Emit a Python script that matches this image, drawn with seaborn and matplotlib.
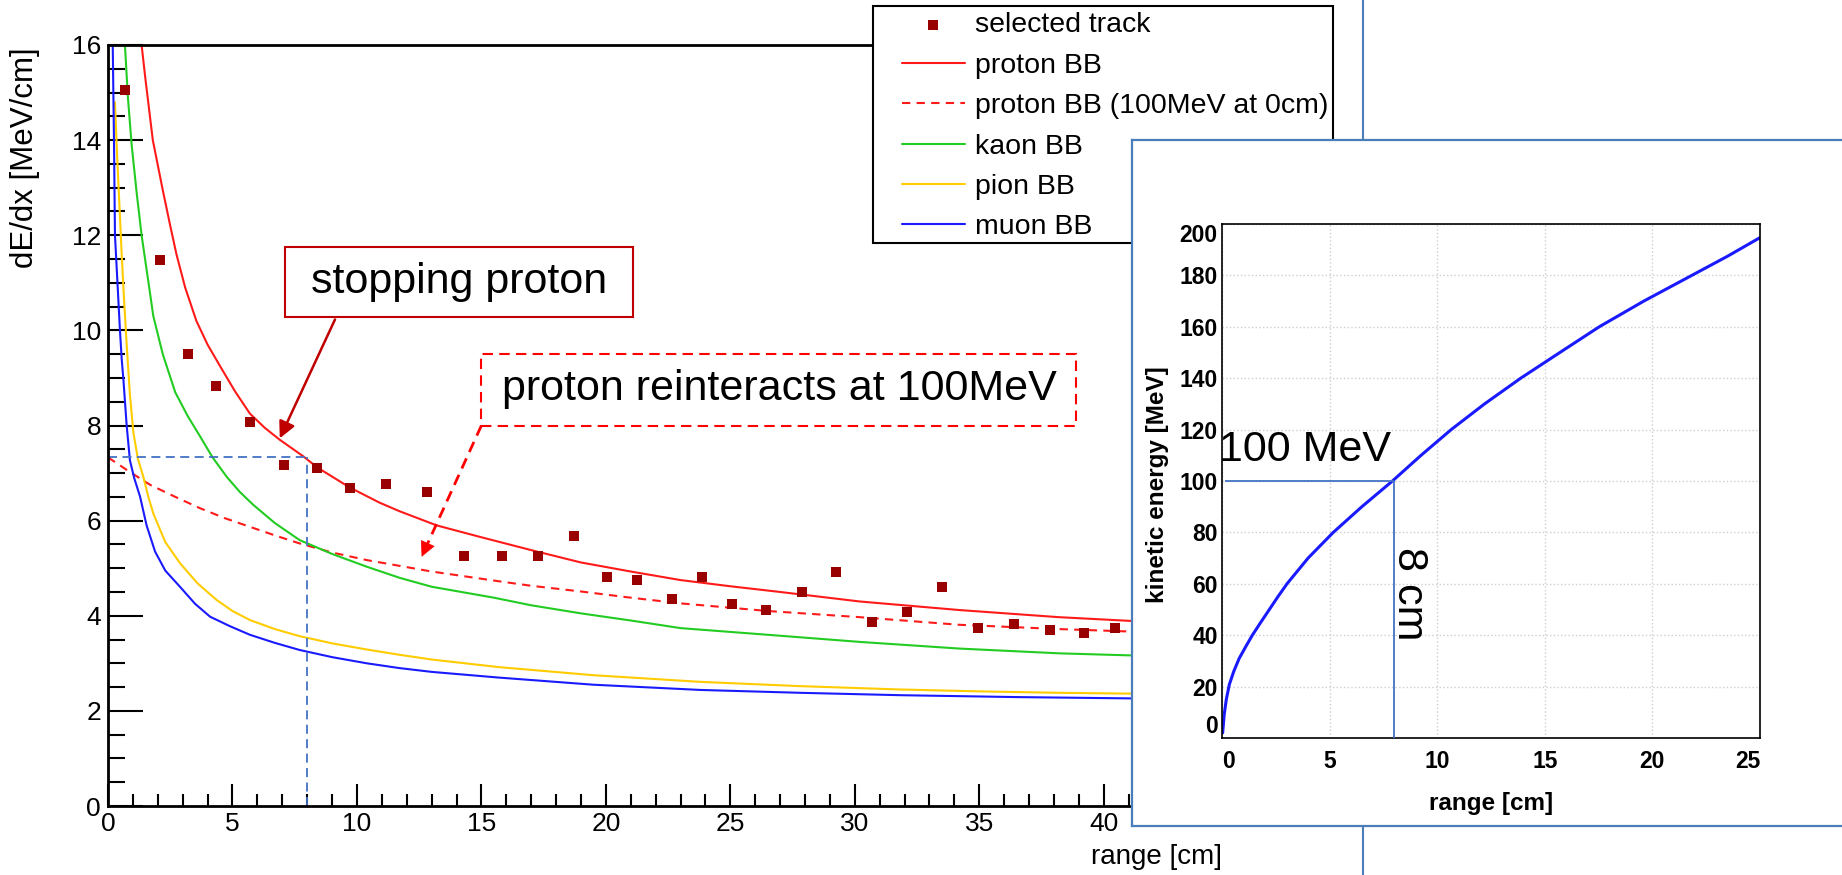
import matplotlib
matplotlib.use("Agg")
import matplotlib.pyplot as plt
import seaborn as sns
from matplotlib.patches import Rectangle
from matplotlib.lines import Line2D
from matplotlib.ticker import MultipleLocator

# ---------------- data ----------------
track_range = [0.68, 2.09, 3.2, 4.34, 5.7, 7.07, 8.38, 9.72, 11.16, 12.8, 14.31, 15.83,
               17.28, 18.73, 20.03, 21.27, 22.66, 23.87, 25.07, 26.45, 27.88, 29.26,
               30.71, 32.08, 33.51, 34.95, 36.4, 37.86, 39.2, 40.44]
track_dedx = [15.05, 11.48, 9.5, 8.82, 8.07, 7.18, 7.10, 6.68, 6.76, 6.6, 5.26, 5.26,
              5.26, 5.68, 4.82, 4.75, 4.36, 4.82, 4.24, 4.12, 4.49, 4.91,
              3.86, 4.07, 4.61, 3.74, 3.82, 3.69, 3.64, 3.74]

proton_range = [1.35, 1.5, 1.8, 2.2, 2.5, 2.75, 3.1, 3.55, 4.0, 4.5, 5.1, 5.7, 6.3, 6.9,
                7.85, 8.4, 9.7, 10.9, 11.7, 13.2, 15.0, 17.0, 19.0, 21.0, 23.0, 25.0,
                27.0, 30.2, 34.2, 38.2, 41.5]
proton_dedx = [16.0, 15.3, 14.0, 12.95, 12.2, 11.6, 10.9, 10.2, 9.7, 9.25, 8.72, 8.25,
               7.95, 7.7, 7.35, 7.12, 6.7, 6.38, 6.2, 5.9, 5.65, 5.38, 5.12, 4.93, 4.75,
               4.62, 4.5, 4.3, 4.12, 3.97, 3.88]

proton100_range = [0.0, 0.8, 1.7, 2.7, 3.7, 4.7, 5.7, 6.7, 7.7, 9.0, 10.4, 11.7, 13.0,
                   15.5, 17.0, 19.0, 21.0, 23.0, 26.5, 30.2, 34.2, 38.2, 41.5]
proton100_dedx = [7.33, 7.05, 6.75, 6.5, 6.26, 6.05, 5.87, 5.69, 5.52, 5.33, 5.17, 5.05,
                  4.93, 4.74, 4.63, 4.51, 4.38, 4.26, 4.1, 3.97, 3.81, 3.72, 3.66]

kaon_range = [0.68, 0.8, 0.95, 1.15, 1.35, 1.6, 1.82, 2.2, 2.7, 3.2, 3.7, 4.2, 4.77, 5.3,
              5.84, 6.7, 7.7, 9.0, 10.4, 11.7, 13.0, 15.5, 17.0, 19.0, 21.0, 23.0, 26.5,
              30.2, 34.2, 38.2, 41.5]
kaon_dedx = [16.0, 14.9, 13.9, 12.9, 12.0, 11.1, 10.3, 9.5, 8.7, 8.2, 7.77, 7.33, 6.92,
             6.6, 6.33, 5.95, 5.59, 5.3, 5.03, 4.8, 4.61, 4.38, 4.22, 4.05, 3.9, 3.74, 3.6,
             3.45, 3.31, 3.21, 3.16]

pion_range = [0.28, 0.34, 0.41, 0.48, 0.55, 0.65, 0.75, 0.88, 1.02, 1.2, 1.42, 1.62, 1.82,
              2.3, 2.9, 3.6, 4.37, 5.0, 5.7, 6.7, 7.7, 9.0, 10.4, 11.7, 13.0, 15.7, 19.5,
              23.8, 27.8, 31.8, 35.0, 38.2, 41.5]
pion_dedx = [14.8, 14.0, 13.16, 12.4, 11.6, 10.6, 9.7, 8.65, 7.85, 7.3, 6.92, 6.5, 6.15,
             5.55, 5.1, 4.68, 4.33, 4.1, 3.91, 3.72, 3.57, 3.42, 3.29, 3.18, 3.08, 2.92,
             2.75, 2.61, 2.52, 2.45, 2.41, 2.38, 2.36]

muon_range = [0.19, 0.215, 0.24, 0.26, 0.28, 0.38, 0.48, 0.55, 0.62, 0.75, 0.88, 1.05,
              1.29, 1.55, 1.89, 2.3, 2.89, 3.5, 4.1, 4.9, 5.7, 6.7, 7.7, 9.0, 10.4, 11.7,
              13.0, 15.7, 19.5, 23.8, 27.8, 31.8, 36.5, 41.5]
muon_dedx = [16.0, 15.0, 14.0, 13.0, 12.0, 11.0, 10.0, 9.4, 8.96, 8.0, 7.27, 6.9, 6.5,
             5.9, 5.35, 4.95, 4.61, 4.25, 3.98, 3.78, 3.6, 3.43, 3.28, 3.13, 3.0, 2.9,
             2.82, 2.7, 2.55, 2.44, 2.38, 2.33, 2.29, 2.26]

legend_labels = ["selected track", "proton BB", "proton BB (100MeV at 0cm)",
                 "kaon BB", "pion BB", "muon BB"]

inset_range = [0.03, 0.1, 0.2, 0.34, 0.55, 0.8, 1.1, 1.41, 1.8, 2.2, 2.6, 3.02, 4.0, 5.17,
               6.5, 7.92, 9.25, 10.65, 12.2, 13.88, 15.7, 17.53, 19.6, 21.83, 23.5, 25.0]
inset_ke = [2, 9, 15, 20.8, 26, 31, 35.5, 40, 45, 50, 55, 60, 70, 80, 90, 100, 110, 120,
            130, 140, 150, 160, 170, 180, 187.5, 194.7]

marker_range = 8.0
marker_dedx = 7.33
marker_ke = 100

# ---------------- style ----------------
sns.set_style("ticks")
plt.rcParams["font.family"] = ["Liberation Sans", "DejaVu Sans"]
plt.rcParams["text.color"] = "black"
plt.rcParams["axes.labelcolor"] = "black"
plt.rcParams["xtick.color"] = "black"
plt.rcParams["ytick.color"] = "black"

W, H = 1842, 875
fig = plt.figure(figsize=(W / 100, H / 100), dpi=100)


def fx(px):
    return px / W


def fy(py):
    return 1 - py / H


# ---------------- main axes ----------------
ax = fig.add_axes([fx(108), fy(806), (1222 - 108) / W, (806 - 45) / H])

sns.scatterplot(x=track_range, y=track_dedx, ax=ax, marker="s", s=44, color="#990000",
                linewidth=0, label=legend_labels[0], zorder=3)
sns.lineplot(x=proton_range, y=proton_dedx, ax=ax, color="#ff1a1a", lw=1.5,
             estimator=None, sort=False, label=legend_labels[1])
sns.lineplot(x=proton100_range, y=proton100_dedx, ax=ax, color="#ff1a1a", lw=1.5,
             linestyle=(0, (4, 3)), estimator=None, sort=False, label=legend_labels[2])
sns.lineplot(x=kaon_range, y=kaon_dedx, ax=ax, color="#22cc22", lw=1.5,
             estimator=None, sort=False, label=legend_labels[3])
sns.lineplot(x=pion_range, y=pion_dedx, ax=ax, color="#ffcc00", lw=1.5,
             estimator=None, sort=False, label=legend_labels[4])
sns.lineplot(x=muon_range, y=muon_dedx, ax=ax, color="#1a1aff", lw=1.5,
             estimator=None, sort=False, label=legend_labels[5])

ax.set_xlim(0, 44.75)
ax.set_ylim(0, 16)
ax.xaxis.set_major_locator(MultipleLocator(5))
ax.xaxis.set_minor_locator(MultipleLocator(1))
ax.yaxis.set_major_locator(MultipleLocator(2))
ax.yaxis.set_minor_locator(MultipleLocator(0.5))
ax.tick_params(which="both", direction="in", top=False, right=False, color="black",
               labelsize=19, width=1.5)
ax.tick_params(axis="y", which="major", length=25, pad=5)
ax.tick_params(axis="y", which="minor", length=12)
ax.tick_params(axis="x", which="major", length=16, pad=4)
ax.tick_params(axis="x", which="minor", length=8.5)
for s in ["left", "bottom", "top", "right"]:
    ax.spines[s].set_color("black")
    ax.spines[s].set_linewidth(2.0)

ax.set_ylabel("dE/dx [MeV/cm]", fontsize=22.5)
ax.yaxis.set_label_coords(-0.061, 0.852)
ax.set_xlabel("range [cm]", fontsize=20, ha="right")
ax.xaxis.set_label_coords(1.0, -0.05)

# helper lines at 100 MeV / 8 cm
ax.hlines(marker_dedx, 0, marker_range, color="#4472C4", lw=1.3, linestyles=(0, (5, 3)))
ax.vlines(marker_range, 0, marker_dedx, color="#4472C4", lw=1.3, linestyles=(0, (5, 3)))

# legend (frame drawn separately)
handles, labels = ax.get_legend_handles_labels()
hmap = dict(zip(labels, handles))
ax.add_patch(Rectangle((fx(873), fy(243)), 460 / W, 237 / H, transform=fig.transFigure,
                       facecolor="white", edgecolor="black", lw=1.5, zorder=4.9,
                       clip_on=False))
leg = ax.legend([hmap[l] for l in legend_labels], legend_labels, loc="upper left",
                bbox_to_anchor=(fx(902), fy(12.5)), bbox_transform=fig.transFigure,
                frameon=False, borderpad=0, borderaxespad=0, handlelength=2.21,
                handletextpad=0.35, labelspacing=0.505, fontsize=20.5)
leg.set_zorder(5)

# annotation: stopping proton
ax.add_patch(Rectangle((7.13, 10.28), 21.09 - 7.13, 11.76 - 10.28, facecolor="white",
                       edgecolor="#C00000", lw=1.5, zorder=4, clip_on=False))
ax.text(14.11, 11.02, "stopping proton", ha="center", va="center", fontsize=31, zorder=4.5)
ax.annotate("", xy=(6.9, 7.73), xytext=(9.12, 10.23),
            arrowprops=dict(arrowstyle="-|>", color="#C00000", lw=1.8, mutation_scale=25,
                            shrinkA=0, shrinkB=0), zorder=4)

# annotation: proton reinteracts
ax.add_patch(Rectangle((15.0, 8.0), 38.9 - 15.0, 9.5 - 8.0, facecolor="none",
                       edgecolor="#ff0000", lw=1.5, ls=(0, (5, 3)), zorder=4, clip_on=False))
ax.text(26.95, 8.77, "proton reinteracts at 100MeV", ha="center", va="center",
        fontsize=31, zorder=4.5)
ax.plot([15.0, 12.78], [8.0, 5.45], color="#ff0000", lw=2, ls=(0, (4, 2.5)), zorder=4)
ax.annotate("", xy=(12.6, 5.24), xytext=(12.84, 5.52),
            arrowprops=dict(arrowstyle="-|>", color="#ff0000", lw=0.5, mutation_scale=25,
                            shrinkA=0, shrinkB=0), zorder=4)

# slide divider line
fig.add_artist(Line2D([fx(1363), fx(1363)], [0, 1], transform=fig.transFigure,
                      color="#4A7EBB", lw=1.5, zorder=1))

# ---------------- inset box ----------------
axb = fig.add_axes([fx(1132), fy(826), (W - 1132) / W + 0.02, (826 - 140) / H], zorder=3)
axb.set_facecolor("white")
axb.set_xticks([])
axb.set_yticks([])
for s in axb.spines.values():
    s.set_color("#4A7EBB")
    s.set_linewidth(1.6)
axb.spines["right"].set_visible(False)

# ---------------- inset plot ----------------
axi = fig.add_axes([fx(1222), fy(738), 538 / W, 514 / H], zorder=4)
axi.set_facecolor("white")
sns.lineplot(x=inset_range, y=inset_ke, ax=axi, color="#1a1aff", lw=2.2,
             estimator=None, sort=False)
axi.set_xlim(0, 25)
axi.set_ylim(0, 200)
axi.set_xticks(range(0, 26, 5))
axi.set_yticks(range(0, 201, 20))
axi.grid(True, color="#cfcfcf", ls=":", lw=1)
axi.set_axisbelow(True)
axi.tick_params(length=0, labelsize=16.5)
axi.tick_params(axis="x", pad=9)
axi.tick_params(axis="y", pad=3)
for lab in axi.get_xticklabels() + axi.get_yticklabels():
    lab.set_fontweight("bold")
xt = axi.get_xticklabels()
xt[0].set_ha("left")
xt[-1].set_ha("right")
yt = axi.get_yticklabels()
yt[0].set_va("bottom")
yt[-1].set_va("top")
for s in axi.spines.values():
    s.set_color("black")
    s.set_linewidth(1.2)
axi.set_xlabel("range [cm]", fontsize=17.5, fontweight="bold")
axi.xaxis.set_label_coords(0.5, -0.105)
axi.set_ylabel("kinetic energy [MeV]", fontsize=17.5, fontweight="bold")
axi.yaxis.set_label_coords(-0.098, 0.492)

axi.hlines(marker_ke, 0.13, marker_range, color="#4472C4", lw=1.3, zorder=3)
axi.vlines(marker_range, 0, marker_ke, color="#4472C4", lw=1.3, zorder=3)
axi.text(-0.14, 107.6, "100 MeV", fontsize=31, ha="left", va="baseline", clip_on=False,
         zorder=5)
axi.text(8.7, 56.2, "8 cm", fontsize=31, rotation=-90, ha="center", va="center",
         zorder=5)

fig.savefig("out.png", dpi=100)
